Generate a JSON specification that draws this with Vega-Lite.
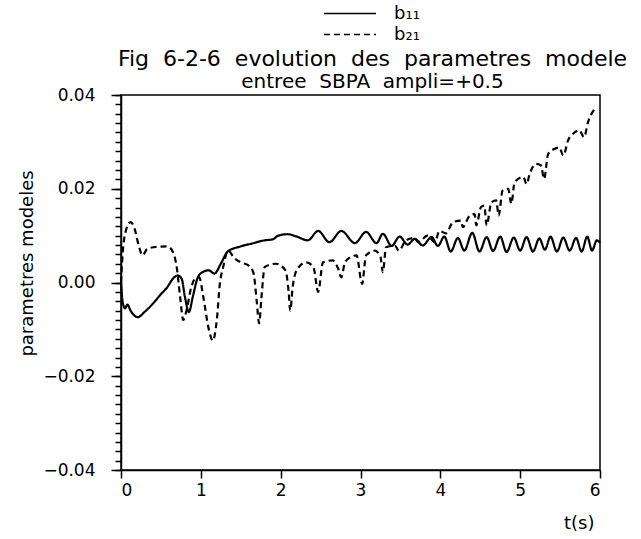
{
  "$schema": "https://vega.github.io/schema/vega-lite/v6.json",
  "width": 479,
  "height": 375,
  "autosize": {"type": "none"},
  "padding": {"left": 121, "top": 95, "right": 41, "bottom": 69},
  "background": "white",
  "config": {
    "font": "DejaVu Sans",
    "view": {"stroke": "black", "strokeWidth": 1.5}
  },
  "title": {
    "text": "Fig\u00a0\u00a06-2-6\u00a0\u00a0evolution\u00a0\u00a0des\u00a0\u00a0parametres\u00a0\u00a0modele",
    "subtitle": "\u00a0\u00a0\u00a0\u00a0entree\u00a0\u00a0SBPA\u00a0\u00a0ampli=+0.5",
    "fontSize": 22,
    "subtitleFontSize": 20,
    "fontWeight": "normal",
    "color": "black",
    "subtitleColor": "black",
    "anchor": "middle",
    "dx": 12,
    "dy": 93,
    "offset": 3,
    "subtitlePadding": 1
  },
  "datasets": {
    "curves": [
      {"t": 0.00, "v": 0.0000, "s": "b₁₁"},
      {"t": 0.02, "v": -0.0040, "s": "b₁₁"},
      {"t": 0.05, "v": -0.0055, "s": "b₁₁"},
      {"t": 0.08, "v": -0.0047, "s": "b₁₁"},
      {"t": 0.12, "v": -0.0060, "s": "b₁₁"},
      {"t": 0.21, "v": -0.0074, "s": "b₁₁"},
      {"t": 0.30, "v": -0.0062, "s": "b₁₁"},
      {"t": 0.40, "v": -0.0045, "s": "b₁₁"},
      {"t": 0.50, "v": -0.0025, "s": "b₁₁"},
      {"t": 0.58, "v": -0.0010, "s": "b₁₁"},
      {"t": 0.65, "v": 0.0008, "s": "b₁₁"},
      {"t": 0.71, "v": 0.0015, "s": "b₁₁"},
      {"t": 0.76, "v": 0.0008, "s": "b₁₁"},
      {"t": 0.80, "v": -0.0030, "s": "b₁₁"},
      {"t": 0.85, "v": -0.0063, "s": "b₁₁"},
      {"t": 0.90, "v": -0.0030, "s": "b₁₁"},
      {"t": 0.96, "v": 0.0010, "s": "b₁₁"},
      {"t": 1.02, "v": 0.0022, "s": "b₁₁"},
      {"t": 1.10, "v": 0.0026, "s": "b₁₁"},
      {"t": 1.17, "v": 0.0019, "s": "b₁₁"},
      {"t": 1.25, "v": 0.0040, "s": "b₁₁"},
      {"t": 1.33, "v": 0.0065, "s": "b₁₁"},
      {"t": 1.40, "v": 0.0072, "s": "b₁₁"},
      {"t": 1.48, "v": 0.0076, "s": "b₁₁"},
      {"t": 1.56, "v": 0.0080, "s": "b₁₁"},
      {"t": 1.64, "v": 0.0083, "s": "b₁₁"},
      {"t": 1.72, "v": 0.0087, "s": "b₁₁"},
      {"t": 1.80, "v": 0.0090, "s": "b₁₁"},
      {"t": 1.90, "v": 0.0092, "s": "b₁₁"},
      {"t": 1.97, "v": 0.0100, "s": "b₁₁"},
      {"t": 2.09, "v": 0.0103, "s": "b₁₁"},
      {"t": 2.20, "v": 0.0098, "s": "b₁₁"},
      {"t": 2.34, "v": 0.0090, "s": "b₁₁"},
      {"t": 2.47, "v": 0.0110, "s": "b₁₁"},
      {"t": 2.61, "v": 0.0086, "s": "b₁₁"},
      {"t": 2.76, "v": 0.0110, "s": "b₁₁"},
      {"t": 2.93, "v": 0.0084, "s": "b₁₁"},
      {"t": 3.07, "v": 0.0108, "s": "b₁₁"},
      {"t": 3.20, "v": 0.0084, "s": "b₁₁"},
      {"t": 3.28, "v": 0.0104, "s": "b₁₁"},
      {"t": 3.39, "v": 0.0078, "s": "b₁₁"},
      {"t": 3.49, "v": 0.0098, "s": "b₁₁"},
      {"t": 3.59, "v": 0.0081, "s": "b₁₁"},
      {"t": 3.68, "v": 0.0093, "s": "b₁₁"},
      {"t": 3.78, "v": 0.0079, "s": "b₁₁"},
      {"t": 3.89, "v": 0.0097, "s": "b₁₁"},
      {"t": 3.97, "v": 0.0078, "s": "b₁₁"},
      {"t": 4.05, "v": 0.0098, "s": "b₁₁"},
      {"t": 4.13, "v": 0.0066, "s": "b₁₁"},
      {"t": 4.22, "v": 0.0095, "s": "b₁₁"},
      {"t": 4.30, "v": 0.0068, "s": "b₁₁"},
      {"t": 4.40, "v": 0.0106, "s": "b₁₁"},
      {"t": 4.49, "v": 0.0066, "s": "b₁₁"},
      {"t": 4.58, "v": 0.0097, "s": "b₁₁"},
      {"t": 4.66, "v": 0.0067, "s": "b₁₁"},
      {"t": 4.75, "v": 0.0098, "s": "b₁₁"},
      {"t": 4.83, "v": 0.0065, "s": "b₁₁"},
      {"t": 4.92, "v": 0.0096, "s": "b₁₁"},
      {"t": 5.00, "v": 0.0068, "s": "b₁₁"},
      {"t": 5.08, "v": 0.0097, "s": "b₁₁"},
      {"t": 5.16, "v": 0.0066, "s": "b₁₁"},
      {"t": 5.24, "v": 0.0094, "s": "b₁₁"},
      {"t": 5.31, "v": 0.0070, "s": "b₁₁"},
      {"t": 5.38, "v": 0.0098, "s": "b₁₁"},
      {"t": 5.46, "v": 0.0066, "s": "b₁₁"},
      {"t": 5.54, "v": 0.0096, "s": "b₁₁"},
      {"t": 5.62, "v": 0.0068, "s": "b₁₁"},
      {"t": 5.70, "v": 0.0095, "s": "b₁₁"},
      {"t": 5.77, "v": 0.0066, "s": "b₁₁"},
      {"t": 5.84, "v": 0.0098, "s": "b₁₁"},
      {"t": 5.90, "v": 0.0068, "s": "b₁₁"},
      {"t": 5.96, "v": 0.0090, "s": "b₁₁"},
      {"t": 6.00, "v": 0.0085, "s": "b₁₁"},
      {"t": 0.00, "v": 0.0000, "s": "b₂₁"},
      {"t": 0.02, "v": 0.0060, "s": "b₂₁"},
      {"t": 0.06, "v": 0.0110, "s": "b₂₁"},
      {"t": 0.12, "v": 0.0129, "s": "b₂₁"},
      {"t": 0.17, "v": 0.0115, "s": "b₂₁"},
      {"t": 0.22, "v": 0.0080, "s": "b₂₁"},
      {"t": 0.27, "v": 0.0058, "s": "b₂₁"},
      {"t": 0.33, "v": 0.0072, "s": "b₂₁"},
      {"t": 0.45, "v": 0.0076, "s": "b₂₁"},
      {"t": 0.58, "v": 0.0077, "s": "b₂₁"},
      {"t": 0.65, "v": 0.0065, "s": "b₂₁"},
      {"t": 0.70, "v": 0.0030, "s": "b₂₁"},
      {"t": 0.74, "v": -0.0030, "s": "b₂₁"},
      {"t": 0.78, "v": -0.0080, "s": "b₂₁"},
      {"t": 0.82, "v": -0.0060, "s": "b₂₁"},
      {"t": 0.88, "v": -0.0010, "s": "b₂₁"},
      {"t": 0.94, "v": 0.0010, "s": "b₂₁"},
      {"t": 0.98, "v": 0.0011, "s": "b₂₁"},
      {"t": 1.03, "v": -0.0030, "s": "b₂₁"},
      {"t": 1.10, "v": -0.0100, "s": "b₂₁"},
      {"t": 1.15, "v": -0.0124, "s": "b₂₁"},
      {"t": 1.20, "v": -0.0080, "s": "b₂₁"},
      {"t": 1.24, "v": 0.0000, "s": "b₂₁"},
      {"t": 1.28, "v": 0.0033, "s": "b₂₁"},
      {"t": 1.34, "v": 0.0068, "s": "b₂₁"},
      {"t": 1.42, "v": 0.0052, "s": "b₂₁"},
      {"t": 1.50, "v": 0.0043, "s": "b₂₁"},
      {"t": 1.60, "v": 0.0036, "s": "b₂₁"},
      {"t": 1.66, "v": 0.0020, "s": "b₂₁"},
      {"t": 1.70, "v": -0.0040, "s": "b₂₁"},
      {"t": 1.73, "v": -0.0087, "s": "b₂₁"},
      {"t": 1.76, "v": -0.0030, "s": "b₂₁"},
      {"t": 1.80, "v": 0.0033, "s": "b₂₁"},
      {"t": 1.94, "v": 0.0040, "s": "b₂₁"},
      {"t": 2.06, "v": 0.0026, "s": "b₂₁"},
      {"t": 2.10, "v": -0.0020, "s": "b₂₁"},
      {"t": 2.12, "v": -0.0060, "s": "b₂₁"},
      {"t": 2.15, "v": -0.0010, "s": "b₂₁"},
      {"t": 2.20, "v": 0.0026, "s": "b₂₁"},
      {"t": 2.32, "v": 0.0043, "s": "b₂₁"},
      {"t": 2.41, "v": 0.0033, "s": "b₂₁"},
      {"t": 2.47, "v": -0.0020, "s": "b₂₁"},
      {"t": 2.53, "v": 0.0043, "s": "b₂₁"},
      {"t": 2.65, "v": 0.0047, "s": "b₂₁"},
      {"t": 2.72, "v": 0.0030, "s": "b₂₁"},
      {"t": 2.76, "v": 0.0011, "s": "b₂₁"},
      {"t": 2.80, "v": 0.0040, "s": "b₂₁"},
      {"t": 2.84, "v": 0.0050, "s": "b₂₁"},
      {"t": 2.95, "v": 0.0058, "s": "b₂₁"},
      {"t": 3.02, "v": -0.0003, "s": "b₂₁"},
      {"t": 3.07, "v": 0.0058, "s": "b₂₁"},
      {"t": 3.18, "v": 0.0068, "s": "b₂₁"},
      {"t": 3.25, "v": 0.0055, "s": "b₂₁"},
      {"t": 3.28, "v": 0.0022, "s": "b₂₁"},
      {"t": 3.32, "v": 0.0075, "s": "b₂₁"},
      {"t": 3.43, "v": 0.0079, "s": "b₂₁"},
      {"t": 3.48, "v": 0.0068, "s": "b₂₁"},
      {"t": 3.57, "v": 0.0090, "s": "b₂₁"},
      {"t": 3.68, "v": 0.0095, "s": "b₂₁"},
      {"t": 3.72, "v": 0.0086, "s": "b₂₁"},
      {"t": 3.84, "v": 0.0100, "s": "b₂₁"},
      {"t": 3.93, "v": 0.0086, "s": "b₂₁"},
      {"t": 3.99, "v": 0.0110, "s": "b₂₁"},
      {"t": 4.07, "v": 0.0105, "s": "b₂₁"},
      {"t": 4.16, "v": 0.0129, "s": "b₂₁"},
      {"t": 4.26, "v": 0.0132, "s": "b₂₁"},
      {"t": 4.28, "v": 0.0118, "s": "b₂₁"},
      {"t": 4.37, "v": 0.0143, "s": "b₂₁"},
      {"t": 4.43, "v": 0.0146, "s": "b₂₁"},
      {"t": 4.45, "v": 0.0122, "s": "b₂₁"},
      {"t": 4.51, "v": 0.0161, "s": "b₂₁"},
      {"t": 4.55, "v": 0.0164, "s": "b₂₁"},
      {"t": 4.58, "v": 0.0122, "s": "b₂₁"},
      {"t": 4.64, "v": 0.0171, "s": "b₂₁"},
      {"t": 4.70, "v": 0.0175, "s": "b₂₁"},
      {"t": 4.73, "v": 0.0143, "s": "b₂₁"},
      {"t": 4.78, "v": 0.0196, "s": "b₂₁"},
      {"t": 4.85, "v": 0.0200, "s": "b₂₁"},
      {"t": 4.89, "v": 0.0168, "s": "b₂₁"},
      {"t": 4.93, "v": 0.0214, "s": "b₂₁"},
      {"t": 5.04, "v": 0.0225, "s": "b₂₁"},
      {"t": 5.08, "v": 0.0210, "s": "b₂₁"},
      {"t": 5.12, "v": 0.0232, "s": "b₂₁"},
      {"t": 5.20, "v": 0.0253, "s": "b₂₁"},
      {"t": 5.26, "v": 0.0250, "s": "b₂₁"},
      {"t": 5.30, "v": 0.0221, "s": "b₂₁"},
      {"t": 5.35, "v": 0.0274, "s": "b₂₁"},
      {"t": 5.43, "v": 0.0285, "s": "b₂₁"},
      {"t": 5.49, "v": 0.0288, "s": "b₂₁"},
      {"t": 5.54, "v": 0.0271, "s": "b₂₁"},
      {"t": 5.60, "v": 0.0303, "s": "b₂₁"},
      {"t": 5.68, "v": 0.0320, "s": "b₂₁"},
      {"t": 5.74, "v": 0.0325, "s": "b₂₁"},
      {"t": 5.80, "v": 0.0310, "s": "b₂₁"},
      {"t": 5.85, "v": 0.0342, "s": "b₂₁"},
      {"t": 5.95, "v": 0.0374, "s": "b₂₁"}
    ]
  },
  "resolve": {"axis": {"y": "independent"}},
  "layer": [
    {
      "mark": {"type": "rule", "color": "black", "strokeWidth": 2},
      "encoding": {
        "y": {
          "datum": 0,
          "type": "quantitative",
          "scale": {"domain": [-0.04, 0.04], "nice": false},
          "axis": {
            "orient": "left",
            "values": [-0.04, -0.038, -0.036, -0.034, -0.032, -0.03, -0.028, -0.026, -0.024, -0.022, -0.02, -0.018, -0.016, -0.014, -0.012, -0.01, -0.008, -0.006, -0.004, -0.002, 0, 0.002, 0.004, 0.006, 0.008, 0.01, 0.012, 0.014, 0.016, 0.018, 0.02, 0.022, 0.024, 0.026, 0.028, 0.03, 0.032, 0.034, 0.036, 0.038, 0.04],
            "labels": false,
            "domain": false,
            "grid": false,
            "title": null,
            "tickSize": 6,
            "tickColor": "black",
            "tickWidth": 1.5
          }
        }
      }
    },
    {
      "data": {"name": "curves"},
      "mark": {"type": "line", "color": "black", "strokeWidth": 2.2, "interpolate": "monotone"},
      "encoding": {
        "x": {
          "field": "t",
          "type": "quantitative",
          "scale": {"domain": [0, 6], "nice": false},
          "axis": {
            "values": [0, 1, 2, 3, 4, 5, 6],
            "format": "d",
            "grid": false,
            "domainColor": "black",
            "domainWidth": 1.5,
            "tickColor": "black",
            "tickWidth": 1.5,
            "tickSize": 8,
            "labelFontSize": 17,
            "labelColor": "black",
            "labelPadding": 4,
            "title": "t(s)",
            "titleFontSize": 18,
            "titleFontWeight": "normal",
            "titleColor": "black",
            "titleX": 473,
            "titleY": 53,
            "titleAlign": "right",
            "titleBaseline": "middle"
          }
        },
        "y": {
          "field": "v",
          "type": "quantitative",
          "scale": {"domain": [-0.04, 0.04], "nice": false},
          "axis": {
            "orient": "left",
            "values": [-0.04, -0.02, 0, 0.02, 0.04],
            "format": ".2f",
            "grid": false,
            "domainColor": "black",
            "domainWidth": 1.5,
            "tickColor": "black",
            "tickWidth": 1.5,
            "tickSize": 10,
            "labelFontSize": 17,
            "labelColor": "black",
            "labelPadding": 16,
            "title": "parametres modeles",
            "titleFontSize": 18,
            "titleFontWeight": "normal",
            "titleColor": "black",
            "titleX": -94,
            "titleY": 168,
            "titleAngle": 270,
            "titleAlign": "center",
            "titleBaseline": "middle"
          }
        },
        "strokeDash": {
          "field": "s",
          "type": "nominal",
          "scale": {"domain": ["b₁₁", "b₂₁"], "range": [[1, 0], [6, 4]]},
          "legend": {
            "orient": "none",
            "legendX": 202,
            "legendY": -92,
            "title": null,
            "symbolType": "stroke",
            "symbolSize": 2704,
            "clipHeight": 21,
            "symbolStrokeColor": "black",
            "symbolStrokeWidth": 1.5,
            "labelFontSize": 18,
            "labelColor": "black",
            "labelOffset": 17,
            "rowPadding": 0
          }
        }
      }
    }
  ]
}
